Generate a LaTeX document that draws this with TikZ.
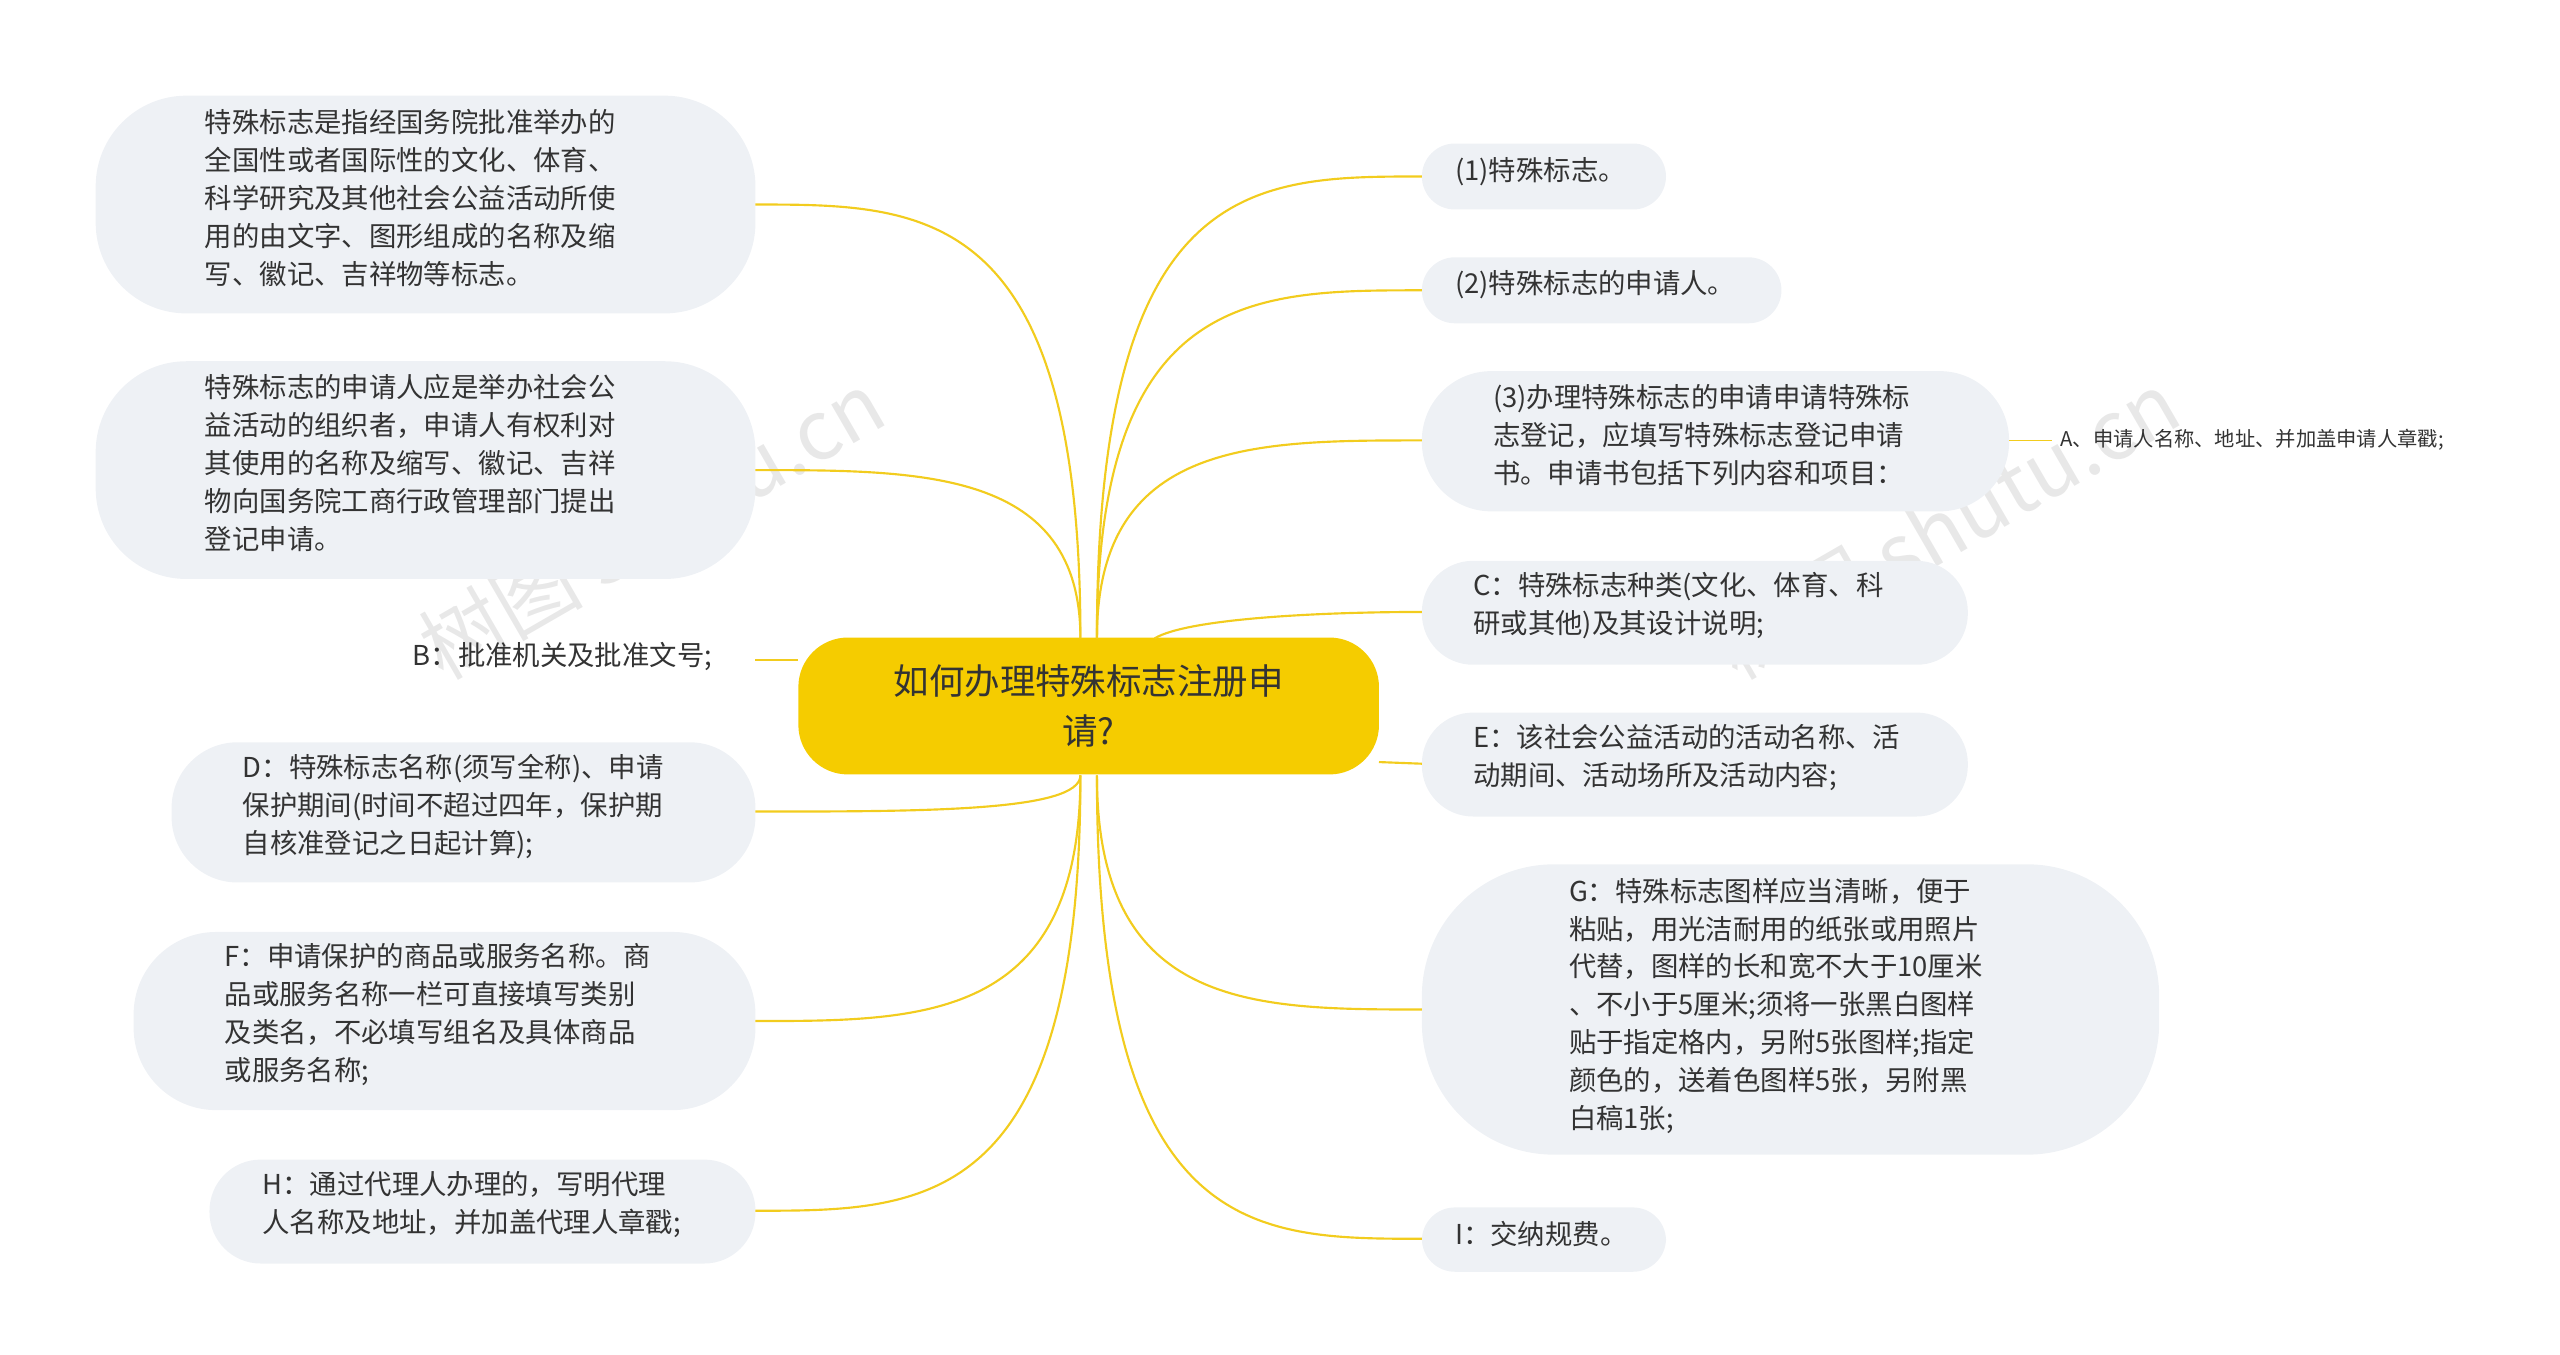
\documentclass[tikz,border=0pt]{standalone}
\usepackage{fontspec}
\setmainfont{Noto Sans CJK SC}
\begin{document}
\begin{tikzpicture}[x=1pt,y=-1pt,
 box/.style={fill=boxc,rounded corners=30pt,inner sep=0pt},
 txt/.style={anchor=north west,align=left,text=textc,font=\fontsize{16.6}{23}\selectfont,inner sep=0pt},
 conn/.style={draw=linec,line width=1.3pt}]
\definecolor{boxc}{HTML}{EEF1F5}
\definecolor{textc}{HTML}{333333}
\definecolor{linec}{HTML}{F2CC1E}
\definecolor{mainc}{HTML}{F5CC00}
\useasboundingbox (0,0) rectangle (1552,821);
% watermarks
\foreach \p in {(395,318),(1180,318)}
 \node[rotate=30,text=black!9,font=\fontsize{50}{50}\selectfont] at \p {树图 shutu.cn};
% center
\node[fill=mainc,rounded corners=30pt,minimum width=352pt,minimum height=83pt,align=center,font=\fontsize{21.5}{30}\selectfont,text=textc] (c) at (660,428) {如何办理特殊标志注册申\\请?};
% left boxes
\fill[boxc,rounded corners=55pt] (58,58) rectangle (458,190);
\node[txt] (l1) at (124,66) {特殊标志是指经国务院批准举办的\\全国性或者国际性的文化、体育、\\科学研究及其他社会公益活动所使\\用的由文字、图形组成的名称及缩\\写、徽记、吉祥物等标志。};
\fill[boxc,rounded corners=55pt] (58,219) rectangle (458,351);
\node[txt] (l2) at (124,227) {特殊标志的申请人应是举办社会公\\益活动的组织者，申请人有权利对\\其使用的名称及缩写、徽记、吉祥\\物向国务院工商行政管理部门提出\\登记申请。};
\node[txt] (l3) at (250,389) {B：批准机关及批准文号;};
\fill[boxc,rounded corners=40pt] (104,450) rectangle (458,535);
\node[txt] (l4) at (147,457) {D：特殊标志名称(须写全称)、申请\\保护期间(时间不超过四年，保护期\\自核准登记之日起计算);};
\fill[boxc,rounded corners=50pt] (81,565) rectangle (458,673);
\node[txt] (l5) at (136,572) {F：申请保护的商品或服务名称。商\\品或服务名称一栏可直接填写类别\\及类名，不必填写组名及具体商品\\或服务名称;};
\fill[boxc,rounded corners=31pt] (127,703) rectangle (458,766);
\node[txt] (l6) at (159,710) {H：通过代理人办理的，写明代理\\人名称及地址，并加盖代理人章戳;};
% right boxes
\fill[boxc,rounded corners=20pt] (862,87) rectangle (1010,127);
\node[txt] (r1) at (882,95) {(1)特殊标志。};
\fill[boxc,rounded corners=20pt] (862,156) rectangle (1080,196);
\node[txt] (r2) at (882,164) {(2)特殊标志的申请人。};
\fill[boxc,rounded corners=42pt] (862,225) rectangle (1218,310);
\node[txt] (r3) at (905,233) {(3)办理特殊标志的申请申请特殊标\\志登记，应填写特殊标志登记申请\\书。申请书包括下列内容和项目：};
\node[txt,font=\fontsize{12.3}{14}\selectfont] (r3a) at (1249,260) {A、申请人名称、地址、并加盖申请人章戳;};
\fill[boxc,rounded corners=31pt] (862,340) rectangle (1193,403);
\node[txt] (r4) at (893,347) {C：特殊标志种类(文化、体育、科\\研或其他)及其设计说明;};
\fill[boxc,rounded corners=31pt] (862,432) rectangle (1193,495);
\node[txt] (r5) at (893,439) {E：该社会公益活动的活动名称、活\\动期间、活动场所及活动内容;};
\fill[boxc,rounded corners=80pt] (862,524) rectangle (1309,700);
\node[txt] (r6) at (951,532) {G：特殊标志图样应当清晰，便于\\粘贴，用光洁耐用的纸张或用照片\\代替，图样的长和宽不大于10厘米\\、不小于5厘米;须将一张黑白图样\\贴于指定格内，另附5张图样;指定\\颜色的，送着色图样5张，另附黑\\白稿1张;};
\fill[boxc,rounded corners=20pt] (862,732) rectangle (1010,771);
\node[txt] (r7) at (882,740) {I：交纳规费。};
% connectors
\coordinate (ct) at (655,387);
\coordinate (ctr) at (665,387);
\coordinate (cb) at (655,470);
\coordinate (cbr) at (665,470);
\draw[conn] (ct) .. controls (655,124) and (560,124) .. (458,124);
\draw[conn] (ct) .. controls (655,285) and (560,285) .. (458,285);
\draw[conn] (c.west |- 0,400) -- (458,400);
\draw[conn] (cb) .. controls (655,492) and (560,492) .. (458,492);
\draw[conn] (cb) .. controls (655,619) and (560,619) .. (458,619);
\draw[conn] (cb) .. controls (655,734) and (560,734) .. (458,734);
\draw[conn] (ctr) .. controls (665,107) and (760,107) .. (862,107);
\draw[conn] (ctr) .. controls (665,176) and (760,176) .. (862,176);
\draw[conn] (ctr) .. controls (665,267) and (760,267) .. (862,267);
\draw[conn] (700,387) .. controls (720,375) and (800,371) .. (862,371);
\draw[conn] (836,462) -- (862,463);
\draw[conn] (cbr) .. controls (665,612) and (760,612) .. (862,612);
\draw[conn] (cbr) .. controls (665,751) and (760,751) .. (862,751);
\draw[conn,line width=0.8pt] (1218,267) -- (1244,267);
\end{tikzpicture}
\end{document}
